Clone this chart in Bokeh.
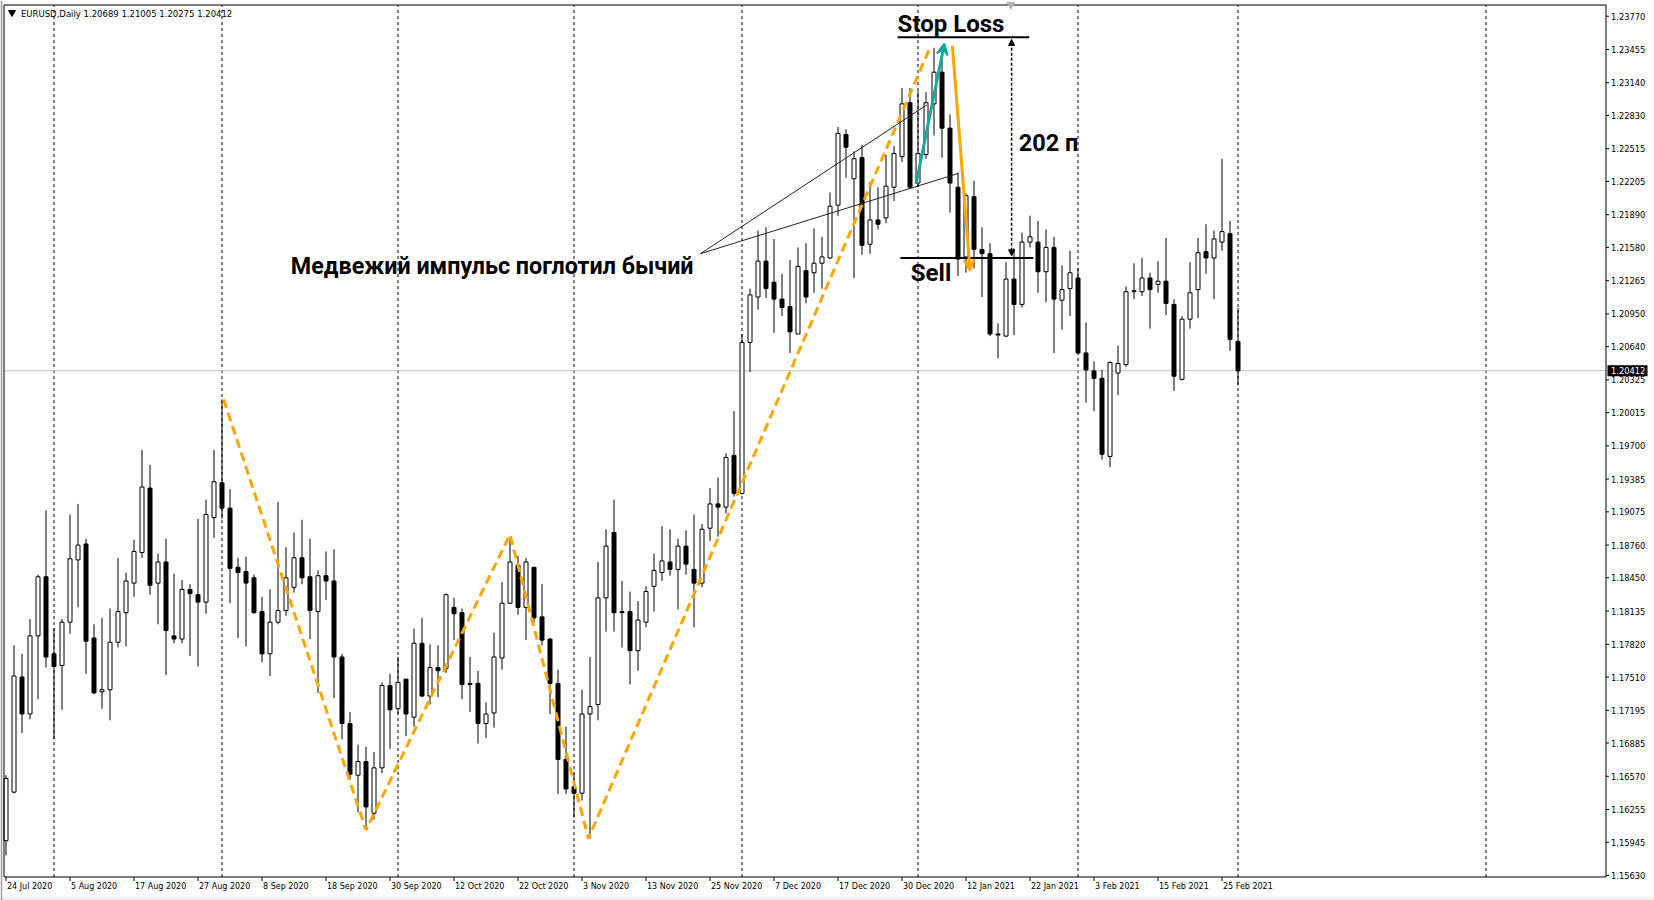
import math
from bokeh.plotting import figure
from bokeh.models import Range1d, Label, ColumnDataSource, Arrow, VeeHead, NormalHead
from bokeh.core.properties import value
from bokeh.embed import file_html
from bokeh.resources import INLINE

# ---------------- data ----------------
opens = [1.1596, 1.1642, 1.1751, 1.1716, 1.1790, 1.1846, 1.1773, 1.1762, 1.1803, 1.1862,
         1.1877, 1.1788, 1.1737, 1.1739, 1.1784, 1.1812, 1.1840, 1.1869, 1.1930, 1.1840,
         1.1860, 1.1790, 1.1787, 1.1834, 1.1829, 1.1822, 1.1902, 1.1935, 1.1911, 1.1855,
         1.1851, 1.1845, 1.1813, 1.1773, 1.1803, 1.1814, 1.1836, 1.1864, 1.1846, 1.1813,
         1.1847, 1.1842, 1.1770, 1.1707, 1.1658, 1.1671, 1.1622, 1.1665, 1.1743, 1.1721,
         1.1749, 1.1713, 1.1783, 1.1733, 1.1760, 1.1759, 1.1817, 1.1812, 1.1745, 1.1745,
         1.1707, 1.1717, 1.1769, 1.1821, 1.1857, 1.1817, 1.1855, 1.1808, 1.1787, 1.1745,
         1.1673, 1.1647, 1.1641, 1.1716, 1.1725, 1.1826, 1.1888, 1.1813, 1.1813, 1.1776,
         1.1803, 1.1837, 1.1850, 1.1860, 1.1853, 1.1875, 1.1853, 1.1840, 1.1892, 1.1915,
         1.1912, 1.1961, 1.1925, 1.2068, 1.2111, 1.2145, 1.2125, 1.2109, 1.2102, 1.2076,
         1.2136, 1.2134, 1.2143, 1.2148, 1.2198, 1.2265, 1.2223, 1.2243, 1.2161, 1.2184,
         1.2186, 1.2215, 1.2244, 1.2295, 1.2219, 1.2246, 1.2294, 1.2324, 1.2271, 1.2215,
         1.2149, 1.2206, 1.2156, 1.2152, 1.2076, 1.2074, 1.2128, 1.2104, 1.2163, 1.2163,
         1.2135, 1.2158, 1.2108, 1.2119, 1.2129, 1.2058, 1.2041, 1.2034, 1.1960, 1.2039,
         1.2047, 1.2116, 1.2116, 1.2129, 1.2123, 1.2126, 1.2104, 1.2033, 1.2090, 1.2118,
         1.2154, 1.2148, 1.2163, 1.2171, 1.20689]
highs = [1.1658, 1.1781, 1.1773, 1.1806, 1.1848, 1.1909, 1.1797, 1.1806, 1.1905, 1.1915,
         1.1882, 1.1801, 1.1807, 1.1816, 1.1864, 1.1850, 1.1881, 1.1966, 1.1952, 1.1868,
         1.1882, 1.1849, 1.1843, 1.1839, 1.1901, 1.1919, 1.1966, 1.2014, 1.1929, 1.1864,
         1.1865, 1.1848, 1.1827, 1.1834, 1.1917, 1.1874, 1.1888, 1.1900, 1.1882, 1.1852,
         1.1870, 1.1872, 1.1773, 1.1718, 1.1687, 1.1685, 1.1680, 1.1746, 1.1754, 1.1770,
         1.1749, 1.1797, 1.1807, 1.1782, 1.1781, 1.1830, 1.1826, 1.1816, 1.1770, 1.1757,
         1.1727, 1.1793, 1.1841, 1.1881, 1.1866, 1.1864, 1.1855, 1.1839, 1.1788, 1.1758,
         1.1704, 1.1660, 1.1739, 1.1770, 1.1860, 1.1891, 1.1919, 1.1842, 1.1832, 1.1823,
         1.1837, 1.1868, 1.1894, 1.1891, 1.1882, 1.1890, 1.1905, 1.1896, 1.1930, 1.1940,
         1.1963, 1.2003, 1.2076, 1.2119, 1.2174, 1.2177, 1.2166, 1.2133, 1.2146, 1.2158,
         1.2162, 1.2176, 1.2168, 1.2210, 1.2272, 1.2270, 1.2249, 1.2255, 1.2220, 1.2215,
         1.2246, 1.2254, 1.2309, 1.2309, 1.2306, 1.2305, 1.2347, 1.2349, 1.2284, 1.2229,
         1.2209, 1.2221, 1.2177, 1.2162, 1.2086, 1.2144, 1.2157, 1.2172, 1.2188, 1.2183,
         1.2175, 1.2168, 1.2141, 1.2155, 1.2138, 1.2087, 1.2050, 1.2042, 1.2050, 1.2065,
         1.2121, 1.2143, 1.2148, 1.2134, 1.2145, 1.2167, 1.2109, 1.2093, 1.2144, 1.2167,
         1.2180, 1.2174, 1.2242, 1.2183, 1.21005]
lows = [1.1582, 1.1641, 1.1698, 1.1711, 1.1730, 1.1760, 1.1692, 1.1720, 1.1792, 1.1817,
        1.1754, 1.1735, 1.1721, 1.1710, 1.1779, 1.1780, 1.1827, 1.1864, 1.1829, 1.1801,
        1.1753, 1.1783, 1.1783, 1.1771, 1.1761, 1.1811, 1.1883, 1.1901, 1.1821, 1.1788,
        1.1780, 1.1811, 1.1765, 1.1752, 1.1801, 1.1809, 1.1831, 1.1839, 1.1787, 1.1736,
        1.1824, 1.1731, 1.1692, 1.1654, 1.1623, 1.1608, 1.1616, 1.1660, 1.1683, 1.1716,
        1.1695, 1.1704, 1.1732, 1.1725, 1.1732, 1.1755, 1.1786, 1.1730, 1.1718, 1.1688,
        1.1693, 1.1703, 1.1758, 1.1820, 1.1810, 1.1786, 1.1802, 1.1781, 1.1716, 1.1640,
        1.1640, 1.1618, 1.1634, 1.1598, 1.1710, 1.1794, 1.1794, 1.1779, 1.1744, 1.1757,
        1.1798, 1.1813, 1.1842, 1.1847, 1.1815, 1.1848, 1.1798, 1.1836, 1.1880, 1.1884,
        1.1906, 1.1922, 1.1924, 1.2040, 1.2099, 1.2110, 1.2077, 1.2093, 1.2058, 1.2076,
        1.2105, 1.2115, 1.2119, 1.2147, 1.2188, 1.2224, 1.2129, 1.2151, 1.2152, 1.2175,
        1.2181, 1.2202, 1.2239, 1.2214, 1.2215, 1.2242, 1.2264, 1.2243, 1.2191, 1.2131,
        1.2134, 1.2138, 1.2111, 1.2074, 1.2053, 1.2073, 1.2075, 1.2101, 1.2158, 1.2115,
        1.2106, 1.2058, 1.2080, 1.2093, 1.2057, 1.2011, 1.2003, 1.1957, 1.1950, 1.2018,
        1.2045, 1.2109, 1.2112, 1.2081, 1.2115, 1.2094, 1.2022, 1.2032, 1.2081, 1.2091,
        1.2133, 1.2109, 1.2155, 1.2060, 1.20275]
closes = [1.1655, 1.1752, 1.1716, 1.1790, 1.1846, 1.1770, 1.1761, 1.1803, 1.1863, 1.1876,
          1.1785, 1.1736, 1.1739, 1.1784, 1.1813, 1.1842, 1.1870, 1.1931, 1.1838, 1.1860,
          1.1795, 1.1787, 1.1834, 1.1830, 1.1822, 1.1905, 1.1936, 1.1911, 1.1854, 1.1850,
          1.1840, 1.1812, 1.1773, 1.1803, 1.1814, 1.1845, 1.1864, 1.1845, 1.1814, 1.1847,
          1.1842, 1.1770, 1.1707, 1.1659, 1.1671, 1.1628, 1.1665, 1.1743, 1.1720, 1.1746,
          1.1716, 1.1783, 1.1733, 1.1760, 1.1757, 1.1829, 1.1811, 1.1744, 1.1744, 1.1707,
          1.1716, 1.1770, 1.1821, 1.1860, 1.1817, 1.1860, 1.1807, 1.1786, 1.1745, 1.1673,
          1.1645, 1.1641, 1.1716, 1.1723, 1.1826, 1.1875, 1.1812, 1.1812, 1.1776, 1.1805,
          1.1832, 1.1852, 1.1861, 1.1853, 1.1875, 1.1858, 1.1840, 1.1891, 1.1915, 1.1912,
          1.1959, 1.1925, 1.2068, 1.2113, 1.2145, 1.2119, 1.2109, 1.2101, 1.2078, 1.2140,
          1.2111, 1.2143, 1.2149, 1.2197, 1.2266, 1.2253, 1.2242, 1.2160, 1.2184, 1.2180,
          1.2216, 1.2247, 1.2294, 1.2215, 1.2247, 1.2295, 1.2324, 1.2271, 1.2219, 1.2147,
          1.2207, 1.2156, 1.2152, 1.2076, 1.2075, 1.2128, 1.2104, 1.2163, 1.2168, 1.2135,
          1.2158, 1.2109, 1.2118, 1.2134, 1.2058, 1.2042, 1.2034, 1.1962, 1.2049, 1.2048,
          1.2116, 1.2117, 1.2129, 1.2118, 1.2126, 1.2105, 1.2036, 1.2090, 1.2115, 1.2153,
          1.2148, 1.2166, 1.2173, 1.2071, 1.20412]

date_labels = ["24 Jul 2020", "5 Aug 2020", "17 Aug 2020", "27 Aug 2020", "8 Sep 2020",
               "18 Sep 2020", "30 Sep 2020", "12 Oct 2020", "22 Oct 2020", "3 Nov 2020",
               "13 Nov 2020", "25 Nov 2020", "7 Dec 2020", "17 Dec 2020", "30 Dec 2020",
               "12 Jan 2021", "22 Jan 2021", "3 Feb 2021", "15 Feb 2021", "25 Feb 2021"]
date_label_bars = list(range(0, 153, 8))
month_start_bars = [6, 27, 49, 71, 92, 114, 134, 154, 185]
price_ticks = [1.23770, 1.23455, 1.23140, 1.22830, 1.22515, 1.22205, 1.21890, 1.21580,
               1.21265, 1.20950, 1.20640, 1.20325, 1.20015, 1.19700, 1.19385, 1.19075,
               1.18760, 1.18450, 1.18135, 1.17820, 1.17510, 1.17195, 1.16885, 1.16570,
               1.16255, 1.15945, 1.15630]
last_price = 1.20412
header_text = "EURUSD,Daily  1.20689 1.21005 1.20275 1.20412"

# annotations (bar index, price)
zigzag_bars = [27.2, 45.0, 63.0, 72.8, 115.6]
zigzag_prices = [1.2014, 1.1606, 1.1886, 1.1598, 1.2349]
drop_arrow = (118.3, 1.2349, 120.5, 1.2136)
rise_arrow = (113.75, 1.2218, 117.3, 1.2351)
callout_start = (86.8, 1.2152)
callout_ends = [(115.1, 1.2293), (119.0, 1.2228)]
stop_loss = (111.45, 127.9, 1.2357)
sell_level = (111.8, 128.4, 1.2148)
pips_arrow = (125.7, 1.2150, 1.2355)
shift_marker = (125.6, 1.2388)
texts = [("Медвежий импульс поглотил бычий", 35.6, 1.2140, "23.3px"),
         ("Stop Loss", 111.45, 1.2370, "24px"),
         ("Sell", 113.1, 1.2134, "24px"),
         ("202 п", 126.6, 1.2257, "23.5px")]

# ---------------- layout: the whole canvas is the plotting frame ----------------
W, H = 1654, 900
PX_PER_BAR = 8.0
X_AT_LEFT = -0.6875          # bar index at the left edge of the canvas
PRICE_AT_TOP = 1.23919       # price at the top edge of the canvas
PRICE_PER_PX = 0.00009473


def px_x(px):
    return X_AT_LEFT + px / PX_PER_BAR


def px_y(py):
    return PRICE_AT_TOP - py * PRICE_PER_PX


chart_left, chart_right = px_x(3.5), px_x(1605.5)
chart_top, chart_bottom = px_y(4.5), px_y(876.5)

p = figure(width=W, height=H, output_backend="svg", toolbar_location=None,
           x_range=Range1d(px_x(0), px_x(W)), y_range=Range1d(px_y(H), px_y(0)),
           x_axis_location=None, y_axis_location=None,
           min_border=0, min_border_left=0, min_border_right=0,
           min_border_top=0, min_border_bottom=0)
p.outline_line_color = None
p.background_fill_color = "white"
p.border_fill_color = "white"
p.grid.grid_line_color = None

AX_FONT = value("DejaVu Sans")

# window chrome
p.quad(left=[px_x(0)], right=[px_x(W)], bottom=[px_y(H)], top=[px_y(896)],
       fill_color="#F0F0F0", line_color=None)
p.quad(left=[px_x(0)], right=[px_x(1.8)], bottom=[px_y(H)], top=[px_y(0)],
       fill_color="#A0A0A0", line_color=None)

# month separators and current price line
n_m = len(month_start_bars)
p.segment(x0=month_start_bars, y0=[chart_bottom] * n_m, x1=month_start_bars, y1=[chart_top] * n_m,
          line_color="black", line_width=1, line_dash="3 3")
p.segment(x0=[chart_left], y0=[last_price], x1=[chart_right], y1=[last_price],
          line_color="#C0C0C0", line_width=1)

# candles
idx = list(range(len(opens)))
src = ColumnDataSource(dict(
    x=idx, o=opens, h=highs, l=lows, c=closes,
    top=[max(o, c) for o, c in zip(opens, closes)],
    bottom=[min(o, c) for o, c in zip(opens, closes)],
    fill=["white" if c > o else "black" for o, c in zip(opens, closes)]))
p.segment(x0="x", y0="l", x1="x", y1="h", source=src, line_color="black", line_width=1)
p.vbar(x="x", top="top", bottom="bottom", width=0.5, source=src,
       fill_color="fill", line_color="black", line_width=1)

# annotations
ORANGE = "#FFA500"
TEAL = "#17A99B"
p.line(zigzag_bars, zigzag_prices, line_color=ORANGE, line_width=3, line_dash="9 5")
for (xe, ye) in callout_ends:
    p.line([callout_start[0], xe], [callout_start[1], ye], line_color="#222222", line_width=1)

p.add_layout(Arrow(end=VeeHead(size=11, line_color=ORANGE, fill_color=ORANGE, line_width=2),
                   x_start=drop_arrow[0], y_start=drop_arrow[1],
                   x_end=drop_arrow[2], y_end=drop_arrow[3],
                   line_color=ORANGE, line_width=3))
p.add_layout(Arrow(end=VeeHead(size=11, line_color=TEAL, fill_color=TEAL, line_width=2),
                   x_start=rise_arrow[0], y_start=rise_arrow[1],
                   x_end=rise_arrow[2], y_end=rise_arrow[3],
                   line_color=TEAL, line_width=3))

p.line([stop_loss[0], stop_loss[1]], [stop_loss[2], stop_loss[2]], line_color="black", line_width=2)
p.line([sell_level[0], sell_level[1]], [sell_level[2], sell_level[2]], line_color="black", line_width=2)
p.add_layout(Arrow(start=NormalHead(size=6, fill_color="black", line_color="black"),
                   end=NormalHead(size=6, fill_color="black", line_color="black"),
                   x_start=pips_arrow[0], y_start=pips_arrow[1],
                   x_end=pips_arrow[0], y_end=pips_arrow[2],
                   line_color="black", line_width=1.5, line_dash="3 2"))

for (t, tx, ty, fs) in texts:
    p.add_layout(Label(x=tx, y=ty, text=t, text_font="Roboto", text_font_style="bold",
                       text_font_size=fs, text_color="black",
                       text_align="left", text_baseline="alphabetic"))

# chart frame
p.quad(left=[chart_left], right=[chart_right], bottom=[chart_bottom], top=[chart_top],
       fill_color=None, line_color="black", line_width=1)
p.scatter(x=[shift_marker[0]], y=[shift_marker[1]], marker="inverted_triangle", size=8,
          fill_color="#B4B4B4", line_color="#B4B4B4")

# price scale (right)
n_p = len(price_ticks)
p.ray(x=[chart_right] * n_p, y=price_ticks, length=3, angle=0, length_units="screen",
      line_color="black", line_width=1)
p.text(x=[chart_right] * n_p, y=price_ticks, text=[f"{t:.5f}" for t in price_ticks],
       x_offset=5, text_align="left", text_baseline="middle",
       text_font=AX_FONT, text_font_size=value("8.3px"), text_color="black")
p.rect(x=[px_x(1627)], y=[last_price], width=40, height=11,
       width_units="screen", height_units="screen", fill_color="black", line_color=None)
p.text(x=[chart_right], y=[last_price], text=[f"{last_price:.5f}"],
       x_offset=5, text_align="left", text_baseline="middle",
       text_font=AX_FONT, text_font_size=value("8.3px"), text_color="white")

# time scale (bottom), labels left-aligned at their tick like the terminal
n_d = len(date_label_bars)
p.ray(x=date_label_bars, y=[chart_bottom] * n_d, length=4, angle=-math.pi / 2,
      length_units="screen", line_color="black", line_width=1)
p.text(x=date_label_bars, y=[px_y(886)] * n_d, text=date_labels, x_offset=1,
       text_align="left", text_baseline="middle",
       text_font=AX_FONT, text_font_size=value("8px"), text_color="black")

# header
p.scatter(x=[px_x(11.5)], y=[px_y(12)], marker="inverted_triangle", size=7,
          fill_color="black", line_color="black")
p.text(x=[px_x(20.5)], y=[px_y(13)], text=[header_text], text_align="left",
       text_baseline="middle", text_font=AX_FONT, text_font_size=value("8.5px"),
       text_color="black")

open("out.html", "w").write(file_html(p, INLINE, "EURUSD Daily"))
